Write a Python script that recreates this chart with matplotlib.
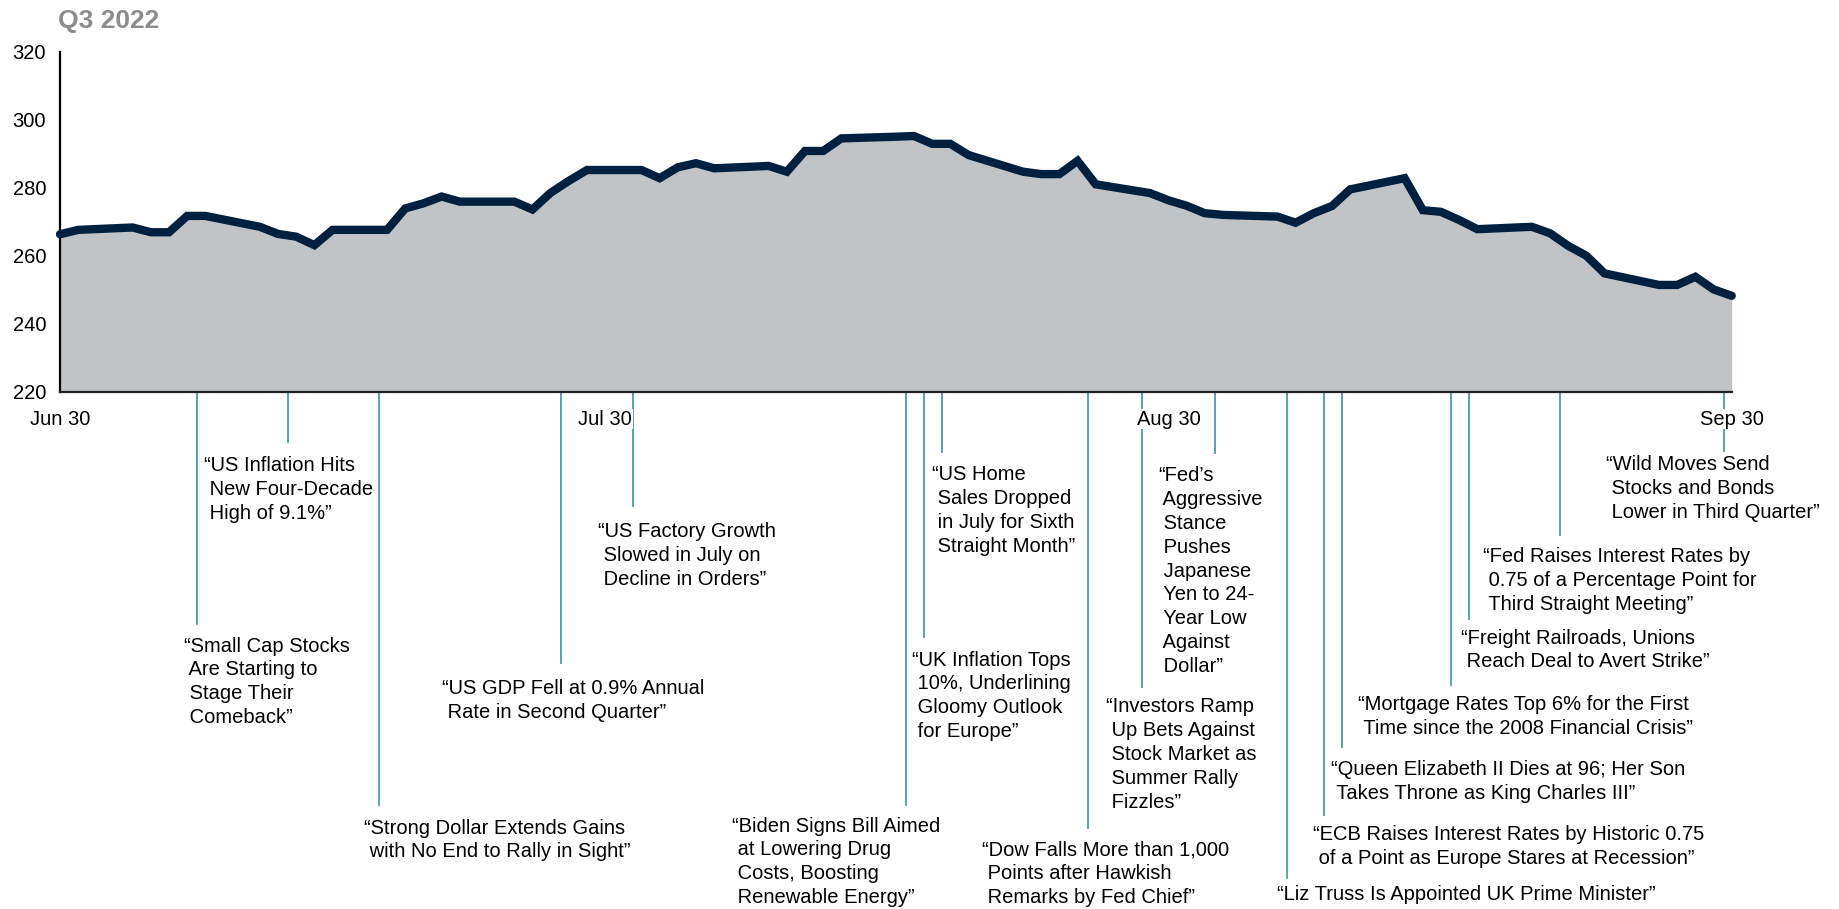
import matplotlib
matplotlib.use("Agg")
import matplotlib.pyplot as plt
import matplotlib.transforms as mtransforms
import matplotlib.dates as mdates
import pandas as pd

plt.rcParams['font.family'] = ['Liberation Sans', 'DejaVu Sans']

# ---------------- data ----------------
dates = [
    "2022-06-30", "2022-07-01", "2022-07-04", "2022-07-05", "2022-07-06", "2022-07-07", "2022-07-08",
    "2022-07-11", "2022-07-12", "2022-07-13", "2022-07-14", "2022-07-15",
    "2022-07-18", "2022-07-19", "2022-07-20", "2022-07-21", "2022-07-22",
    "2022-07-25", "2022-07-26", "2022-07-27", "2022-07-28", "2022-07-29",
    "2022-08-01", "2022-08-02", "2022-08-03", "2022-08-04", "2022-08-05",
    "2022-08-08", "2022-08-09", "2022-08-10", "2022-08-11", "2022-08-12",
    "2022-08-15", "2022-08-16", "2022-08-17", "2022-08-18", "2022-08-19",
    "2022-08-22", "2022-08-23", "2022-08-24", "2022-08-25", "2022-08-26",
    "2022-08-29", "2022-08-30", "2022-08-31", "2022-09-01", "2022-09-02",
    "2022-09-05", "2022-09-06", "2022-09-07", "2022-09-08", "2022-09-09",
    "2022-09-12", "2022-09-13", "2022-09-14", "2022-09-15", "2022-09-16",
    "2022-09-19", "2022-09-20", "2022-09-21", "2022-09-22", "2022-09-23",
    "2022-09-26", "2022-09-27", "2022-09-28", "2022-09-29", "2022-09-30",
]
values = [
    266.3, 267.6, 268.3, 266.9, 266.9, 271.7, 271.7,
    268.5, 266.4, 265.6, 263.1, 267.6,
    267.6, 273.9, 275.4, 277.4, 275.9,
    275.9, 273.6, 278.5, 282.0, 285.2,
    285.2, 282.8, 286.0, 287.2, 285.7,
    286.4, 284.7, 290.8, 290.8, 294.5,
    295.0, 295.2, 292.9, 292.9, 289.6,
    284.7, 284.0, 284.0, 287.9, 281.0,
    278.4, 276.3, 274.7, 272.5, 272.0,
    271.5, 269.7, 272.5, 274.6, 279.5,
    282.8, 273.4, 272.9, 270.5, 267.8,
    268.5, 266.6, 262.9, 260.0, 254.8,
    251.4, 251.4, 253.8, 250.1, 248.2,
]

y_ticks = [220, 240, 260, 280, 300, 320]
x_tick_dates = ["2022-06-30", "2022-07-30", "2022-08-30", "2022-09-30"]
x_tick_labels = ["Jun 30", "Jul 30", "Aug 30", "Sep 30"]

event_dates = [
    "2022-07-08", "2022-07-13", "2022-07-18", "2022-07-28", "2022-08-01",
    "2022-08-16", "2022-08-17", "2022-08-18", "2022-08-26", "2022-08-29",
    "2022-09-02", "2022-09-06", "2022-09-08", "2022-09-09", "2022-09-15",
    "2022-09-16", "2022-09-21", "2022-09-30",
]
headlines = [
    ["\u201cSmall Cap Stocks", " Are Starting to", " Stage Their", " Comeback\u201d"],
    ["\u201cUS Inflation Hits", " New Four-Decade", " High of 9.1%\u201d"],
    ["\u201cStrong Dollar Extends Gains", " with No End to Rally in Sight\u201d"],
    ["\u201cUS GDP Fell at 0.9% Annual", " Rate in Second Quarter\u201d"],
    ["\u201cUS Factory Growth", " Slowed in July on", " Decline in Orders\u201d"],
    ["\u201cBiden Signs Bill Aimed", " at Lowering Drug", " Costs, Boosting", " Renewable Energy\u201d"],
    ["\u201cUK Inflation Tops", " 10%, Underlining", " Gloomy Outlook", " for Europe\u201d"],
    ["\u201cUS Home", " Sales Dropped", " in July for Sixth", " Straight Month\u201d"],
    ["\u201cDow Falls More than 1,000", " Points after Hawkish", " Remarks by Fed Chief\u201d"],
    ["\u201cInvestors Ramp", " Up Bets Against", " Stock Market as", " Summer Rally", " Fizzles\u201d"],
    ["\u201cFed\u2019s", " Aggressive", " Stance", " Pushes", " Japanese", " Yen to 24-", " Year Low", " Against", " Dollar\u201d"],
    ["\u201cLiz Truss Is Appointed UK Prime Minister\u201d"],
    ["\u201cECB Raises Interest Rates by Historic 0.75", " of a Point as Europe Stares at Recession\u201d"],
    ["\u201cQueen Elizabeth II Dies at 96; Her Son", " Takes Throne as King Charles III\u201d"],
    ["\u201cMortgage Rates Top 6% for the First", " Time since the 2008 Financial Crisis\u201d"],
    ["\u201cFreight Railroads, Unions", " Reach Deal to Avert Strike\u201d"],
    ["\u201cFed Raises Interest Rates by", " 0.75 of a Percentage Point for", " Third Straight Meeting\u201d"],
    ["\u201cWild Moves Send", " Stocks and Bonds", " Lower in Third Quarter\u201d"],
]

# ---------------- layout (pixels) ----------------
W, H = 1839, 909
AX_L, AX_R, AX_T, AX_B = 60, 1731.7, 51.7, 391.7
# per event: connector bottom (px from top), text x offset from connector (px), first-line baseline (px from top)
line_bottom = [623.5, 441.7, 805.0, 663.3, 506.0, 805.0, 636.7, 451.7, 828.3, 686.7,
               453.3, 878.3, 815.0, 746.7, 685.0, 619.3, 535.0, 450.7]
text_dx = [-13.6, -83.6, -14.7, -118.2, -35.2, -173.6, -12.1, -9.7, -106.0, -35.9,
           -56.9, -10.2, -11.0, -10.7, -92.9, -7.9, -76.5, -117.9]
text_base = [651.5, 471.0, 833.5, 694.5, 537.0, 831.5, 665.5, 480.0, 855.0, 712.0,
             481.0, 900.5, 840.0, 775.0, 710.5, 643.5, 562.0, 470.0]
LINE_STEP = 23.9
FS = 14.5
TEAL = "#4e9aa5"

fig = plt.figure(figsize=(W / 100, H / 100), dpi=100)
ax = fig.add_axes([AX_L / W, 1 - AX_B / H, (AX_R - AX_L) / W, (AX_B - AX_T) / H])
ax.patch.set_alpha(0)

x = pd.to_datetime(dates)
ax.fill_between(x, y_ticks[0], values, color="#c1c4c7", lw=0, zorder=1)
ax.plot(x, values, color="#00203f", lw=6, solid_joinstyle="miter",
        solid_capstyle="round", zorder=3, clip_on=False)

ax.set_xlim(pd.Timestamp(x_tick_dates[0]), pd.Timestamp(x_tick_dates[-1]))
ax.set_ylim(y_ticks[0], y_ticks[-1])
ax.set_yticks(y_ticks)
ax.set_xticks(pd.to_datetime(x_tick_dates))
ax.set_xticklabels(x_tick_labels)
ax.tick_params(axis="both", length=0, labelsize=FS, colors="black")
ax.tick_params(axis="y", pad=10)
ax.tick_params(axis="x", pad=13)
for s in ["top", "right"]:
    ax.spines[s].set_visible(False)
ax.spines["left"].set_linewidth(1.6)
ax.spines["bottom"].set_linewidth(1.6)
ax.spines["bottom"].set_color("#222222")
for lbl in ax.get_xticklabels():
    lbl.set_bbox(dict(facecolor="white", edgecolor="none", pad=0.5))

# ---------------- annotations ----------------
blend = mtransforms.blended_transform_factory(ax.transData, fig.transFigure)
shift = pd.Timedelta(hours=10.8)
for d, lines, lb, dx, tb in zip(event_dates, headlines, line_bottom, text_dx, text_base):
    xd = mdates.date2num(pd.Timestamp(d) - shift)
    ax.plot([xd, xd], [1 - AX_B / H, 1 - lb / H], transform=blend, color=TEAL,
            lw=1.3, clip_on=False, zorder=0.5)
    ttrans = mtransforms.offset_copy(blend, fig=fig, x=dx, y=0, units="dots")
    for i, ln in enumerate(lines):
        ax.text(xd, 1 - (tb + i * LINE_STEP) / H, ln, transform=ttrans,
                ha="left", va="baseline", fontsize=FS, color="black", clip_on=False)

fig.text(58 / W, 1 - 28 / H, "Q3 2022", fontsize=19, fontweight="bold",
         color="#8c8c8c", va="baseline", ha="left")

fig.savefig("out.png", dpi=100)
